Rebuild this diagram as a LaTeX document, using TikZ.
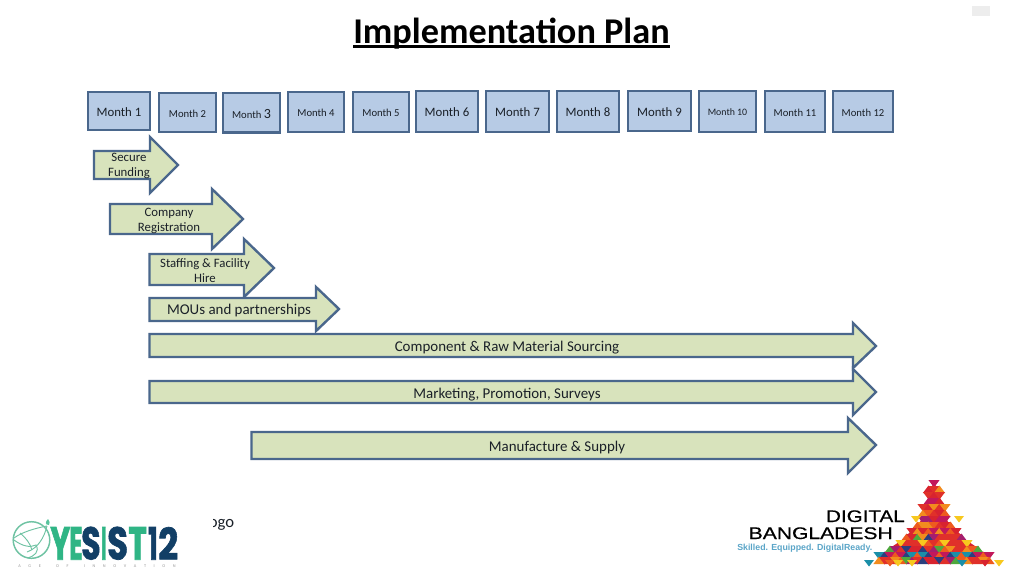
\documentclass[tikz,border=0pt]{standalone}
\usepackage{fontspec}
\usepackage{graphicx}
\setmainfont{Carlito}
\newfontfamily\logofont[FakeBold=0.5]{Liberation Sans}
\newfontfamily\tagfont{Liberation Sans}
\newfontfamily\heavyfont[BoldFeatures={FakeBold=1.6}]{Poppins}
\usetikzlibrary{calc}
\definecolor{boxfill}{HTML}{B7CBE5}
\definecolor{boxline}{HTML}{4A678C}
\definecolor{arrfill}{HTML}{D8E3BC}
\definecolor{inktext}{HTML}{1A2028}
\definecolor{ygreen}{HTML}{2FB585}
\definecolor{ynavy}{HTML}{123F66}
\definecolor{yring}{HTML}{6FC3A3}
\definecolor{tagblue}{HTML}{5AA5C8}
\definecolor{triA}{HTML}{D8232F}
\definecolor{triB}{HTML}{C2185B}
\definecolor{triC}{HTML}{EE5A1F}
\definecolor{triD}{HTML}{E0302A}
\definecolor{triE}{HTML}{A51E6E}
\definecolor{triF}{HTML}{F28C1E}
\definecolor{triG}{HTML}{F7C81E}
\definecolor{triH}{HTML}{1B8FA8}
\definecolor{triI}{HTML}{4FA83D}
\definecolor{triJ}{HTML}{2B3F7E}
\tikzset{
  monthbox/.style={draw=boxline,fill=boxfill,line width=1.9pt},
  big/.style={font=\fontsize{9.6}{11}\selectfont},
  small/.style={font=\fontsize{8}{10}\selectfont},
  tiny/.style={font=\fontsize{7.4}{10}\selectfont},
  planarrow/.style={draw=boxline,fill=arrfill,line width=1.8pt,line join=miter},
  arrowtext/.style={text=inktext,align=center,inner sep=0pt,font=\fontsize{9.6}{11.3}\selectfont},
  longtext/.style={text=inktext,inner sep=0pt,font=\fontsize{11.2}{13}\selectfont},
  yletter/.style={inner sep=0pt,anchor=south west},
}
\newcommand\monthnode[7]{%
  \path (#2,#4) coordinate (#1nw) (#3,#5) coordinate (#1se);
  \draw[monthbox] (#1nw) rectangle (#1se);
  \node[text=inktext,inner sep=0pt,#6] (#1) at ($(#1nw)!.5!(#1se)+(0,1)$) {#7};
}
\newcommand\planshape[8]{%
  \draw[planarrow] (#1,#2) -- (#4,#2) -- (#4,#5) -- (#7,#8) -- (#4,#6) -- (#4,#3) -- (#1,#3) -- cycle;
}
\newcommand\yl[5]{\node[yletter,text=#3] (#1) at (#4,560) {\resizebox{#5pt}{24.5pt}{\heavyfont\bfseries #2}};}
\begin{document}
\begin{tikzpicture}[x=0.75pt,y=-0.75pt]
\useasboundingbox (0,0) rectangle (1024,576);
\fill[white] (0,0) rectangle (1024,576);
% title
\node[inner sep=0pt,text=black,font=\fontsize{27.2}{30}\selectfont\bfseries] (title) at (511.5,33.5) {Implementation Plan};
\coordinate (ulA) at (353,46.5); \coordinate (ulB) at (670,46.5);
\draw[line width=1.9pt] (ulA) -- (ulB);
\fill[black!7] (972,6) rectangle (990,16);
% months
\monthnode{m1}{88}{150}{92}{130}{big}{Month 1}
\monthnode{m2}{159}{216}{93}{132}{small}{Month 2}
\monthnode{m3}{223}{280}{93}{132.5}{small}{Month {\fontsize{10.5}{12}\selectfont 3}}
\monthnode{m4}{288}{344}{92}{132}{small}{Month 4}
\monthnode{m5}{353}{409}{92}{132}{small}{Month 5}
\monthnode{m6}{416}{478}{91}{132}{big}{Month 6}
\monthnode{m7}{486}{549}{91}{132}{big}{Month 7}
\monthnode{m8}{557}{619}{91}{132}{big}{Month 8}
\monthnode{m9}{628}{691}{91}{131}{big}{Month 9}
\monthnode{m10}{699}{756}{91}{132}{tiny}{Month 10}
\monthnode{m11}{765}{825}{91}{132}{small}{Month 11}
\monthnode{m12}{833}{893}{91}{132}{small}{Month 12}
% arrows
\planshape{94}{151}{179}{150}{137}{193}{178}{165}
\node[arrowtext] (a1) at (129,166) {Secure\\Funding};
\planshape{110}{204}{234}{212}{189}{249}{243}{219}
\node[arrowtext] (a2) at (169,220.5) {Company\\Registration};
\planshape{149.5}{254}{285}{244}{239}{297}{274}{268}
\node[arrowtext] (a3) at (205,270.5) {Staffing \& Facility\\Hire};
\planshape{149.5}{298}{321}{316}{287}{331}{339}{309}
\node[longtext] (a4) at (239,311) {MOUs and partnerships};
\planshape{149.5}{334}{357}{853}{323}{368}{876}{346}
\node[longtext] (a5) at (507,347.5) {Component \& Raw Material Sourcing};
\planshape{149.5}{381}{403}{853}{369}{415}{876}{392}
\node[longtext] (a6) at (507,394.5) {Marketing, Promotion, Surveys};
\planshape{251.5}{432}{459}{848}{418}{473}{876}{445}
\node[longtext] (a7) at (557,447.5) {Manufacture \& Supply};
% footer text
\node[inner sep=0pt,text=inktext,font=\fontsize{12.5}{14}\selectfont,anchor=west] (ogo) at (208.5,525) {ogo};
\fill[white] (204,512) rectangle (212.5,534);
% YESIST logo emblem
\draw[yring,line width=1.1pt] (31.5,540) circle (18.3);
\fill[ygreen!80] (48,519) .. controls (45,522) and (45,525) .. (49,525) .. controls (50,523) and (50,521) .. (48,519) -- cycle;
\draw[yring,line width=.7pt] (47,526) .. controls (36,528) and (22,532) .. (14,538);
\draw[yring,line width=.7pt] (47,526) .. controls (44,538) and (38,548) .. (27,552);
\draw[yring,line width=.7pt] (14,540) .. controls (22,546) and (30,548) .. (36,545) .. controls (40,552) and (34,556) .. (28,558);
\draw[yring,line width=.7pt] (20,533) .. controls (26,538) and (30,543) .. (32,550);
\yl{yY}{Y}{ygreen}{50}{15}
\yl{yE}{E}{ygreen}{69}{10}
\yl{yS1}{S}{ynavy}{81}{14.5}
\yl{yI}{I}{ygreen}{101}{4}
\yl{yS2}{S}{ynavy}{107}{15.5}
\yl{yT}{T}{ygreen}{128}{14}
\yl{y1}{1}{ynavy}{148}{7}
\yl{y2}{2}{ynavy}{158}{15}
\node[inner sep=0pt,text=black!40,font=\fontsize{3.2}{4}\selectfont] (ytag) at (97,566) {\makebox[118pt][s]{A\hfill G\hfill E\hfill\hfill O\hfill F\hfill\hfill I\hfill N\hfill N\hfill O\hfill V\hfill A\hfill T\hfill I\hfill O\hfill N}};
% Digital Bangladesh logo
\node[inner sep=0pt,anchor=base east,text=black] (dg) at (905,522) {\resizebox{59pt}{8.8pt}{\logofont DIGITAL}};
\node[inner sep=0pt,anchor=base east,text=black] (bd) at (893,539) {\resizebox{108pt}{8.8pt}{\logofont BANGLADESH}};
\node[inner sep=0pt,anchor=base west,text=tagblue,font=\tagfont\bfseries\fontsize{6.6}{8}\selectfont] (tg) at (737,550) {Skilled. Equipped. DigitalReady.};
% mosaic
\fill[triA] (934,481) -- (938,492) -- (940,504) -- (948,522) -- (956,530) -- (966,540) -- (978,548) -- (990,558) -- (878,558) -- (890,548) -- (902,540) -- (912,530) -- (920,522) -- (928,504) -- (930,492) -- cycle;
\foreach \yy/\hw [count=\r] in {480/3,486/6,492/6,498/8,504/11,510/14,516/14,522/17,528/22,534/28,540/33,546/44,552/56,557/60}{
  \pgfmathtruncatemacro\n{\hw/5.5}
  \pgfmathtruncatemacro\m{2*\n}
  \foreach \i in {0,...,\m}{
    \pgfmathtruncatemacro\k{mod(\i*37+\r*61+\i*\r*13+\i*\i*7,\yy>524 ? 16 : 9)}
    \pgfmathsetmacro\cname{{"triA","triB","triC","triD","triE","triA","triF","triB","triD","triH","triD","triA","triI","triB","triJ","triG"}[\k]}
    \pgfmathsetmacro\xx{934+(\i-\n)*5.5}
    \pgfmathtruncatemacro\up{mod(\i+\r,2)}
    \ifnum\up=0
      \fill[\cname] (\xx-5.6,\yy+7) -- (\xx+5.6,\yy+7) -- (\xx,\yy-.5) -- cycle;
    \else
      \fill[\cname] (\xx-5.6,\yy) -- (\xx+5.6,\yy) -- (\xx,\yy+7.5) -- cycle;
    \fi
  }
}
\foreach \px/\py/\cc in {869/560/triH,890/560/triC,898/560/triG,912/560/triG,962/560/triH,999/560/triG,985/560/triA,916/516/triG,959/516/triG}{
  \fill[\cc] (\px-5,\py) -- (\px+5,\py) -- (\px,\py+6.5) -- cycle;
}
\end{tikzpicture}
\end{document}
